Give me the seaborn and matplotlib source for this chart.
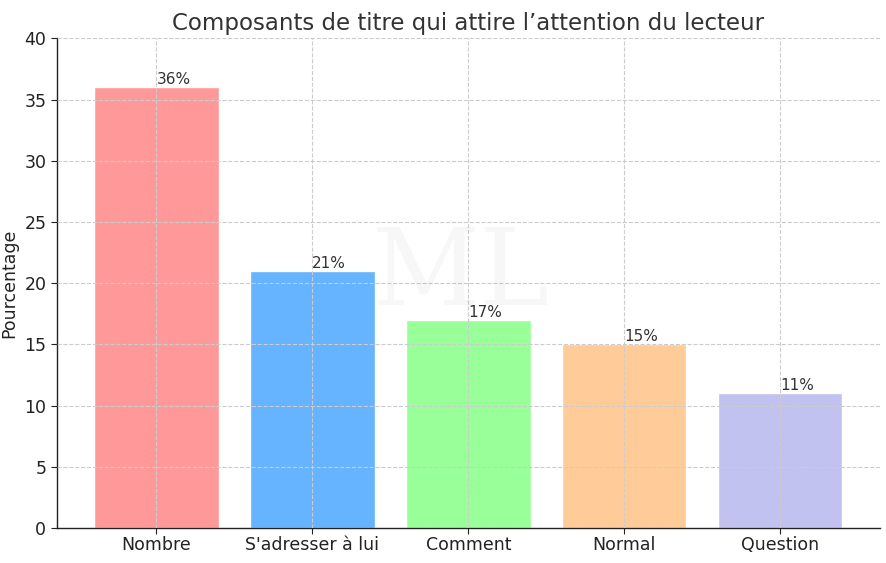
import matplotlib
matplotlib.use("Agg")
import matplotlib.pyplot as plt
import seaborn as sns
import pandas as pd

categories = ["Nombre", "S'adresser à lui", "Comment", "Normal", "Question"]
values = [36, 21, 17, 15, 11]
colors = ["#ff9999", "#66b3ff", "#99ff99", "#ffcc99", "#c2c2f0"]
title = "Composants de titre qui attire l’attention du lecteur"
ylabel = "Pourcentage"

sns.set_style("white")
plt.rcParams["font.family"] = ["DejaVu Sans"]

df = pd.DataFrame({"cat": categories, "val": values})

fig, ax = plt.subplots(figsize=(8.86, 5.63), dpi=100)
sns.barplot(data=df, x="cat", y="val", hue="cat", palette=colors,
            order=categories, hue_order=categories, dodge=False,
            width=0.8, saturation=1, legend=False, ax=ax)

ax.set_axisbelow(False)
ax.grid(True, linestyle="--", color="#cccccc", linewidth=0.8)
for s in ["top", "right"]:
    ax.spines[s].set_visible(False)
for s in ["left", "bottom"]:
    ax.spines[s].set_color("#222222")
    ax.spines[s].set_linewidth(1.0)
ax.set_xlim(-0.64, len(categories) - 1 + 0.64)
ax.set_ylim(0, 40)
ax.tick_params(axis="both", direction="out", length=4, labelsize=12.5,
               left=True, bottom=True, colors="#222222")
ax.tick_params(axis="x", pad=2)

ax.set_xlabel("")
ax.set_ylabel(ylabel, fontsize=12.5, color="#222222")
ax.set_title(title, fontsize=16.5, color="#333333", pad=6)

for i, v in enumerate(values):
    ax.text(i, v, f"{v}%", ha="left", va="bottom", fontsize=11, color="#333333")

fig.text(0.52, 0.51, "ML", fontsize=76, family="DejaVu Serif", color="#000000",
         alpha=0.03, ha="center", va="center")

fig.subplots_adjust(left=0.064, right=0.993, top=0.932, bottom=0.062)
fig.savefig("out.png", dpi=100)
